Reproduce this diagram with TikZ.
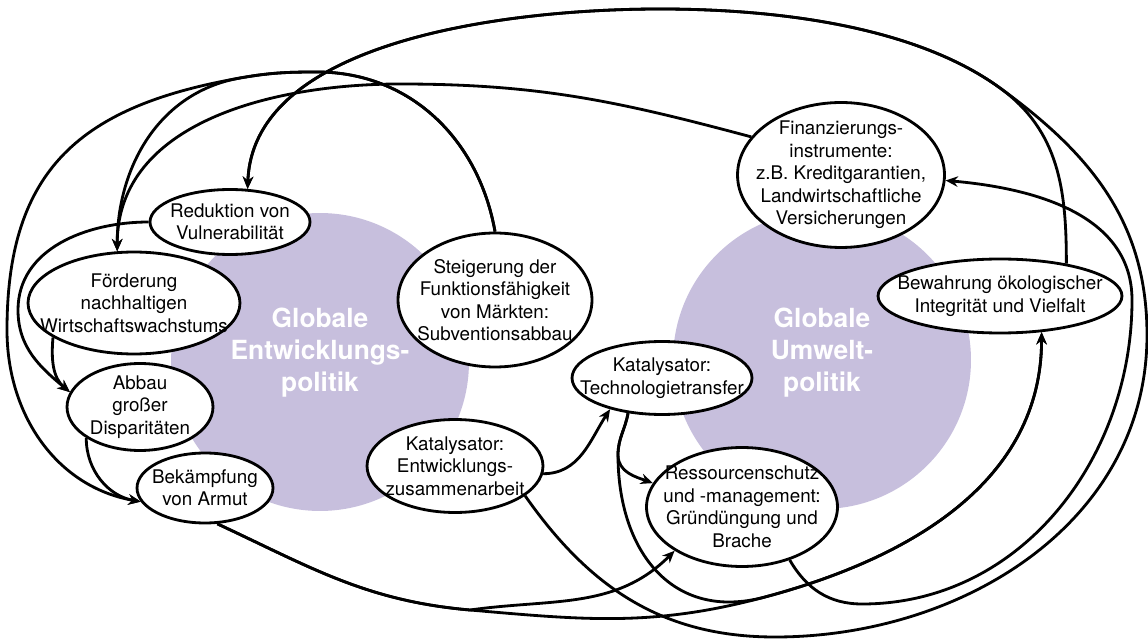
\documentclass[tikz,border=0pt]{standalone}
\usepackage{fontspec}
\setmainfont{TeX Gyre Heros}
\usetikzlibrary{shapes.geometric, arrows.meta}

\definecolor{policyfill}{RGB}{199,191,221}

\begin{document}
\begin{tikzpicture}[
    % ── Global: one unit = one pixel of the layout, y runs downwards ──
    x=0.02cm, y=-0.02cm,
    % ── Node Styles ──
    field/.style={
        circle, fill=policyfill, draw=none,
        minimum size=5.96cm, inner sep=0pt
    },
    fieldlbl/.style={
        align=center, text=white,
        font=\bfseries\fontsize{15}{18.2}\selectfont
    },
    aim/.style={
        ellipse, draw=black, line width=1.6pt, fill=white,
        align=center, inner xsep=-0.6cm, inner ysep=-0.3cm,
        font=\fontsize{10.7}{12.8}\selectfont
    },
    arrow/.style={-{Stealth[length=7pt, width=6pt]}, line width=1.6pt,
        line join=round, draw=black},
]
\useasboundingbox (0,0) rectangle (1148,641);

% ════════════════════════════════════════════════════════
%  POLICY FIELDS
% ════════════════════════════════════════════════════════

\node (devfield) [field] at (320,362) {};
\node (devlbl) [fieldlbl] at (320,353) {Globale\\Entwicklungs-\\politik};

\node (envfield) [field] at (822,360) {};
\node (envlbl) [fieldlbl] at (822,353) {Globale\\Umwelt-\\politik};

% ════════════════════════════════════════════════════════
%  GOALS AND INSTRUMENTS
% ════════════════════════════════════════════════════════

\node (red) [aim, minimum width=3.2cm, minimum height=1.3cm] at (230,222)
    {Reduktion von\\Vulnerabilität};
\node (foer) [aim, minimum width=4.24cm, minimum height=2.04cm] at (134,303)
    {Förderung\\nachhaltigen\\Wirtschaftswachstums};
\node (abbau) [aim, minimum width=2.92cm, minimum height=1.74cm] at (140,407)
    {Abbau\\großer\\Disparitäten};
\node (bek) [aim, minimum width=2.72cm, minimum height=1.4cm] at (205,488)
    {Bekämpfung\\von Armut};
\node (steig) [aim, minimum width=3.88cm, minimum height=2.68cm] at (495,300)
    {Steigerung der\\Funktionsfähigkeit\\von Märkten:\\Subventionsabbau};
\node (kate) [aim, minimum width=3.52cm, minimum height=1.86cm] at (455,466)
    {Katalysator:\\Entwicklungs-\\zusammenarbeit};
\node (katt) [aim, minimum width=3.6cm, minimum height=1.46cm] at (662,378)
    {Katalysator:\\Technologietransfer};
\node (ress) [aim, minimum width=3.82cm, minimum height=2.38cm] at (742,507)
    {Ressourcenschutz\\und -management:\\Gründüngung und\\Brache};
\node (fin) [aim, minimum width=4.14cm, minimum height=2.9cm] at (841,175)
    {Finanzierungs-\\instrumente:\\z.B. Kreditgarantien,\\Landwirtschaftliche\\Versicherungen};
\node (bew) [aim, minimum width=4.88cm, minimum height=1.48cm] at (1000,296)
    {Bewahrung ökologischer\\Integrität und Vielfalt};

% ════════════════════════════════════════════════════════
%  ROUTING POINTS
% ════════════════════════════════════════════════════════

\coordinate (rimLow)   at (775,637);
\coordinate (rimEast)  at (1147,335);
\coordinate (rimNE)    at (1000,88);
\coordinate (rimTop)   at (660,9);
\coordinate (arcTop)   at (317,72);
\coordinate (arcFork)  at (240,78);
\coordinate (arcWest)  at (7,330);
\coordinate (finTop)   at (400,84);
\coordinate (redWest)  at (18,310);
\coordinate (bekFork)  at (470,610);
\coordinate (bewMerge) at (765,597);
\coordinate (kattFork) at (618,455);
\coordinate (ressLow)  at (862,604);
\coordinate (ressEast) at (1132,300);

% ════════════════════════════════════════════════════════
%  ARROWS
% ════════════════════════════════════════════════════════

% Outer loop into Reduktion (from Entwicklungszusammenarbeit and Bewahrung)
\draw [arrow] (kate.-23) to[out=-55, in=180] (rimLow)
    to[out=0, in=-90] (rimEast)
    to[out=90, in=-36] (rimNE)
    to[out=144, in=0, looseness=0.8] (rimTop)
    to[out=180, in=88, looseness=0.85] (red.62);
\draw [arrow] (bew.26) to[out=90, in=-36] (rimNE)
    to[out=144, in=0, looseness=0.8] (rimTop)
    to[out=180, in=88, looseness=0.85] (red.62);

% Steigerung: fork to Förderung and round the west side to Bekämpfung
\draw [arrow] (steig.north) to[out=100, in=0] (arcTop)
    to[out=180, in=10] (arcFork)
    to[out=190, in=90, looseness=1.2] (arcWest)
    to[out=-90, in=170] (bek.-168);
\draw [arrow] (steig.north) to[out=100, in=0] (arcTop)
    to[out=180, in=10] (arcFork)
    to[out=190, in=90] (foer.108);

% Finanzierung -> Förderung
\draw [arrow] (fin.157) to[out=165, in=0] (finTop) to[out=180, in=90] (foer.108);

% West column
\draw [arrow] (red.west) to[out=180, in=90] (redWest) to[out=-90, in=140] (abbau.168);
\draw [arrow] (foer.-157) to[out=-95, in=140] (abbau.168);
\draw [arrow] (abbau.-150) to[out=-90, in=170] (bek.-168);

% Bekämpfung: fork to Ressourcenschutz and Bewahrung
\draw [arrow] (bek.-71) to[out=-25, in=175] (bekFork) to[out=8, in=-135] (ress.-147);
\draw [arrow] (bek.-71) to[out=-25, in=175] (bekFork)
    to[out=-5, in=195] (bewMerge) to[out=15, in=-90] (bew.-41);

% Katalysatoren
\draw [arrow] (kate.-5) to[out=0, in=-123] (katt.-149);
\draw [arrow] (katt.-134) to[out=-100, in=90] (kattFork) to[out=-90, in=160] (ress.165);
\draw [arrow] (katt.-134) to[out=-100, in=90] (kattFork)
    to[out=-90, in=195, looseness=1.2] (bewMerge) to[out=15, in=-90] (bew.-41);

% Ressourcenschutz -> Finanzierung
\draw [arrow] (ress.-48) to[out=-60, in=180] (ressLow)
    to[out=0, in=-90] (ressEast) to[out=90, in=-5] (fin.-3);

\end{tikzpicture}
\end{document}
